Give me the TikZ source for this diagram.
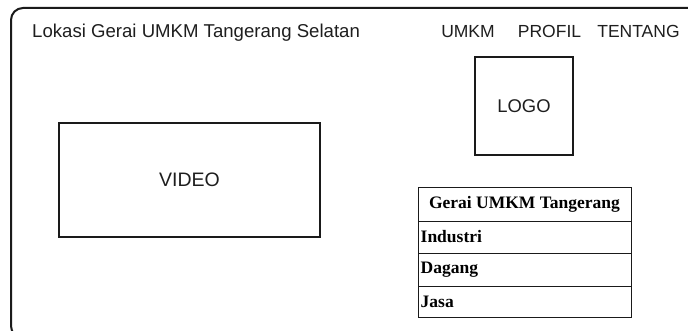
\documentclass[tikz,border=0pt]{standalone}
\usepackage{fontspec}
\setmainfont{Liberation Sans}
\newfontfamily\tabfont{Liberation Serif}
\definecolor{ink}{HTML}{1a1a1a}
\definecolor{txt}{HTML}{1e1e1e}
\tikzset{
  box/.style={draw=ink, line width=1.2pt, fill=white, inner sep=0pt},
  lbl/.style={text=txt, font=\fontsize{17.5}{19}\selectfont, inner sep=0pt},
  cell/.style={draw=ink, line width=1.1pt, minimum width=213pt, inner sep=0pt, anchor=north west},
  celltxt/.style={text=black, font=\tabfont\bfseries\fontsize{17.5}{19}\selectfont, inner sep=0pt},
}
\begin{document}
\begin{tikzpicture}[x=1pt,y=-1pt]
\clip (0,0) rectangle (688,331);
\fill[white] (0,0) rectangle (688,331);
% outer frame
\draw[ink, line width=2pt, rounded corners=12pt] (11,8) rectangle (710,338);
% header texts
\node[lbl, anchor=base west, font=\fontsize{18.6}{20}\selectfont] (title) at (32,37.5) {Lokasi Gerai UMKM Tangerang Selatan};
\node[lbl, anchor=base] (umkm) at (468,37.5) {UMKM};
\node[lbl, anchor=base] (profil) at (549.5,37.5) {PROFIL};
\node[lbl, anchor=base] (tentang) at (638.5,37.5) {TENTANG};
% logo
\node[box, lbl, minimum width=98pt, minimum height=98pt, font=\fontsize{18.4}{20}\selectfont] (logo) at (524,106) {LOGO};
% video
\node[box, lbl, minimum width=261pt, minimum height=114pt, font=\fontsize{19.5}{21}\selectfont] (video) at (189.5,180) {VIDEO};
% table
\node[cell, minimum height=34pt] (hdr) at (418,187) {};
\node[cell, minimum height=32pt] (r1) at (418,221) {};
\node[cell, minimum height=33pt] (r2) at (418,253) {};
\node[cell, minimum height=31pt] (r3) at (418,286) {};
\node[celltxt, anchor=base] (hdrtxt) at (524.5,209) {Gerai UMKM Tangerang};
\node[celltxt, anchor=west] (t1) at (420.5,237) {Industri};
\node[celltxt, anchor=west] (t2) at (420.5,269.5) {Dagang};
\node[celltxt, anchor=west] (t3) at (420.5,301.5) {Jasa};
\end{tikzpicture}
\end{document}
